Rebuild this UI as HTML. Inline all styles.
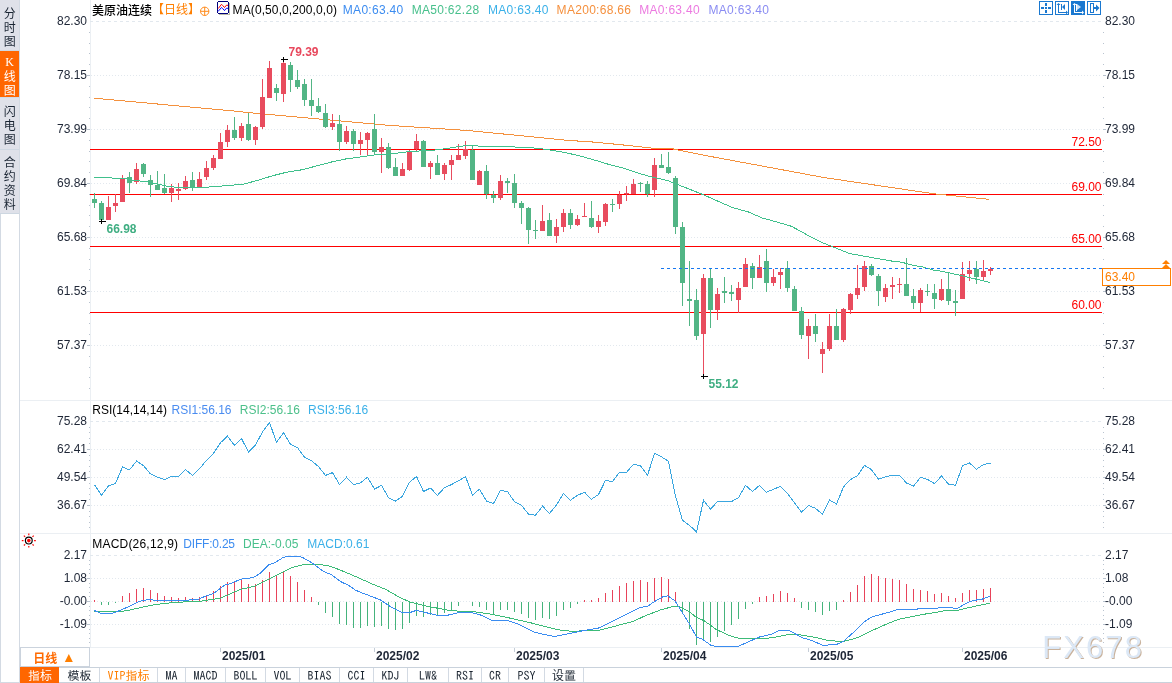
<!DOCTYPE html>
<html><head><meta charset="utf-8">
<style>
html,body{margin:0;padding:0;background:#fff;}
body{width:1172px;height:683px;overflow:hidden;position:relative;font-family:"Liberation Sans","Noto Sans CJK SC",sans-serif;}
svg{position:absolute;left:0;top:0;}
.n{font-family:"Liberation Sans",sans-serif;font-size:12px;}
.nb{font-family:"Liberation Sans",sans-serif;font-size:12px;font-weight:bold;}
.t{position:absolute;white-space:nowrap;font-size:12px;line-height:14px;}
.side{position:absolute;left:0;width:19px;text-align:center;font-family:"Noto Sans CJK SC",sans-serif;font-size:12px;line-height:15px;color:#1a2430;}
.tab{position:absolute;top:667px;height:15px;line-height:15px;font-size:12px;text-align:center;font-family:"IPAGothic","Noto Sans CJK SC",monospace;color:#1a2430;border-right:1px solid #d3dae3;box-sizing:border-box;}
</style></head><body>
<svg width="1172" height="683" viewBox="0 0 1172 683" shape-rendering="crispEdges">
<rect x="0" y="0" width="20" height="213" fill="#dfe1e9"/>
<rect x="0" y="51" width="19" height="46" fill="#ff6600"/>
<rect x="0" y="97" width="19" height="1" fill="#cfdbe8"/>
<rect x="0" y="50" width="19" height="1" fill="#cfd8e2"/>
<rect x="0" y="149" width="19" height="1" fill="#cfd8e2"/>
<rect x="0" y="213" width="1" height="470" fill="#d3dae3"/>
<rect x="0" y="213" width="19" height="1" fill="#cdd7e1"/>
<rect x="19" y="0" width="1" height="683" fill="#d3dae3"/>
<rect x="0" y="682" width="20" height="1" fill="#d3dae3"/>
<rect x="20" y="400" width="1152" height="1" fill="#ebeff3"/>
<rect x="20" y="533" width="1152" height="1" fill="#ebeff3"/>
<rect x="20" y="647" width="1152" height="1" fill="#ebeff3"/>
<rect x="90" y="0" width="1" height="647" fill="#ebeff3"/>
<line x1="90" y1="21.5" x2="1102" y2="21.5" stroke="#e2e8ee" stroke-width="1" stroke-dasharray="3,3"/>
<line x1="91" y1="75.5" x2="1102" y2="75.5" stroke="#e2e8ee" stroke-width="1" stroke-dasharray="1,2"/>
<line x1="91" y1="129.5" x2="1102" y2="129.5" stroke="#e2e8ee" stroke-width="1" stroke-dasharray="1,2"/>
<line x1="91" y1="183.5" x2="1102" y2="183.5" stroke="#e2e8ee" stroke-width="1" stroke-dasharray="1,2"/>
<line x1="91" y1="237.5" x2="1102" y2="237.5" stroke="#e2e8ee" stroke-width="1" stroke-dasharray="1,2"/>
<line x1="91" y1="291.5" x2="1102" y2="291.5" stroke="#e2e8ee" stroke-width="1" stroke-dasharray="1,2"/>
<line x1="91" y1="345.5" x2="1102" y2="345.5" stroke="#e2e8ee" stroke-width="1" stroke-dasharray="1,2"/>
<line x1="90" y1="421.5" x2="1102" y2="421.5" stroke="#e2e8ee" stroke-width="1" stroke-dasharray="3,3"/>
<line x1="91" y1="449.5" x2="1102" y2="449.5" stroke="#e2e8ee" stroke-width="1" stroke-dasharray="1,2"/>
<line x1="91" y1="477.5" x2="1102" y2="477.5" stroke="#e2e8ee" stroke-width="1" stroke-dasharray="1,2"/>
<line x1="91" y1="505.5" x2="1102" y2="505.5" stroke="#e2e8ee" stroke-width="1" stroke-dasharray="1,2"/>
<line x1="90" y1="555.5" x2="1102" y2="555.5" stroke="#e2e8ee" stroke-width="1" stroke-dasharray="3,3"/>
<line x1="91" y1="578.5" x2="1102" y2="578.5" stroke="#e2e8ee" stroke-width="1" stroke-dasharray="1,2"/>
<line x1="91" y1="601.5" x2="1102" y2="601.5" stroke="#e2e8ee" stroke-width="1" stroke-dasharray="1,2"/>
<line x1="91" y1="624.5" x2="1102" y2="624.5" stroke="#e2e8ee" stroke-width="1" stroke-dasharray="1,2"/>
<rect x="89" y="32" width="1" height="1" fill="#b9c3cf"/>
<rect x="1103" y="32" width="1" height="1" fill="#b9c3cf"/>
<rect x="89" y="43" width="1" height="1" fill="#b9c3cf"/>
<rect x="1103" y="43" width="1" height="1" fill="#b9c3cf"/>
<rect x="89" y="53" width="1" height="1" fill="#b9c3cf"/>
<rect x="1103" y="53" width="1" height="1" fill="#b9c3cf"/>
<rect x="89" y="64" width="1" height="1" fill="#b9c3cf"/>
<rect x="1103" y="64" width="1" height="1" fill="#b9c3cf"/>
<rect x="87" y="75" width="3" height="1" fill="#b9c3cf"/>
<rect x="1103" y="75" width="3" height="1" fill="#b9c3cf"/>
<rect x="89" y="86" width="1" height="1" fill="#b9c3cf"/>
<rect x="1103" y="86" width="1" height="1" fill="#b9c3cf"/>
<rect x="89" y="97" width="1" height="1" fill="#b9c3cf"/>
<rect x="1103" y="97" width="1" height="1" fill="#b9c3cf"/>
<rect x="89" y="107" width="1" height="1" fill="#b9c3cf"/>
<rect x="1103" y="107" width="1" height="1" fill="#b9c3cf"/>
<rect x="89" y="118" width="1" height="1" fill="#b9c3cf"/>
<rect x="1103" y="118" width="1" height="1" fill="#b9c3cf"/>
<rect x="87" y="129" width="3" height="1" fill="#b9c3cf"/>
<rect x="1103" y="129" width="3" height="1" fill="#b9c3cf"/>
<rect x="89" y="140" width="1" height="1" fill="#b9c3cf"/>
<rect x="1103" y="140" width="1" height="1" fill="#b9c3cf"/>
<rect x="89" y="151" width="1" height="1" fill="#b9c3cf"/>
<rect x="1103" y="151" width="1" height="1" fill="#b9c3cf"/>
<rect x="89" y="161" width="1" height="1" fill="#b9c3cf"/>
<rect x="1103" y="161" width="1" height="1" fill="#b9c3cf"/>
<rect x="89" y="172" width="1" height="1" fill="#b9c3cf"/>
<rect x="1103" y="172" width="1" height="1" fill="#b9c3cf"/>
<rect x="87" y="183" width="3" height="1" fill="#b9c3cf"/>
<rect x="1103" y="183" width="3" height="1" fill="#b9c3cf"/>
<rect x="89" y="194" width="1" height="1" fill="#b9c3cf"/>
<rect x="1103" y="194" width="1" height="1" fill="#b9c3cf"/>
<rect x="89" y="205" width="1" height="1" fill="#b9c3cf"/>
<rect x="1103" y="205" width="1" height="1" fill="#b9c3cf"/>
<rect x="89" y="215" width="1" height="1" fill="#b9c3cf"/>
<rect x="1103" y="215" width="1" height="1" fill="#b9c3cf"/>
<rect x="89" y="226" width="1" height="1" fill="#b9c3cf"/>
<rect x="1103" y="226" width="1" height="1" fill="#b9c3cf"/>
<rect x="87" y="237" width="3" height="1" fill="#b9c3cf"/>
<rect x="1103" y="237" width="3" height="1" fill="#b9c3cf"/>
<rect x="89" y="248" width="1" height="1" fill="#b9c3cf"/>
<rect x="1103" y="248" width="1" height="1" fill="#b9c3cf"/>
<rect x="89" y="259" width="1" height="1" fill="#b9c3cf"/>
<rect x="1103" y="259" width="1" height="1" fill="#b9c3cf"/>
<rect x="89" y="269" width="1" height="1" fill="#b9c3cf"/>
<rect x="1103" y="269" width="1" height="1" fill="#b9c3cf"/>
<rect x="89" y="280" width="1" height="1" fill="#b9c3cf"/>
<rect x="1103" y="280" width="1" height="1" fill="#b9c3cf"/>
<rect x="87" y="291" width="3" height="1" fill="#b9c3cf"/>
<rect x="1103" y="291" width="3" height="1" fill="#b9c3cf"/>
<rect x="89" y="302" width="1" height="1" fill="#b9c3cf"/>
<rect x="1103" y="302" width="1" height="1" fill="#b9c3cf"/>
<rect x="89" y="313" width="1" height="1" fill="#b9c3cf"/>
<rect x="1103" y="313" width="1" height="1" fill="#b9c3cf"/>
<rect x="89" y="323" width="1" height="1" fill="#b9c3cf"/>
<rect x="1103" y="323" width="1" height="1" fill="#b9c3cf"/>
<rect x="89" y="334" width="1" height="1" fill="#b9c3cf"/>
<rect x="1103" y="334" width="1" height="1" fill="#b9c3cf"/>
<rect x="87" y="345" width="3" height="1" fill="#b9c3cf"/>
<rect x="1103" y="345" width="3" height="1" fill="#b9c3cf"/>
<rect x="89" y="356" width="1" height="1" fill="#b9c3cf"/>
<rect x="1103" y="356" width="1" height="1" fill="#b9c3cf"/>
<rect x="89" y="367" width="1" height="1" fill="#b9c3cf"/>
<rect x="1103" y="367" width="1" height="1" fill="#b9c3cf"/>
<rect x="89" y="377" width="1" height="1" fill="#b9c3cf"/>
<rect x="1103" y="377" width="1" height="1" fill="#b9c3cf"/>
<rect x="89" y="388" width="1" height="1" fill="#b9c3cf"/>
<rect x="1103" y="388" width="1" height="1" fill="#b9c3cf"/>
<rect x="89" y="427" width="1" height="1" fill="#b9c3cf"/>
<rect x="1103" y="427" width="1" height="1" fill="#b9c3cf"/>
<rect x="89" y="432" width="1" height="1" fill="#b9c3cf"/>
<rect x="1103" y="432" width="1" height="1" fill="#b9c3cf"/>
<rect x="89" y="438" width="1" height="1" fill="#b9c3cf"/>
<rect x="1103" y="438" width="1" height="1" fill="#b9c3cf"/>
<rect x="89" y="443" width="1" height="1" fill="#b9c3cf"/>
<rect x="1103" y="443" width="1" height="1" fill="#b9c3cf"/>
<rect x="87" y="449" width="3" height="1" fill="#b9c3cf"/>
<rect x="1103" y="449" width="3" height="1" fill="#b9c3cf"/>
<rect x="89" y="455" width="1" height="1" fill="#b9c3cf"/>
<rect x="1103" y="455" width="1" height="1" fill="#b9c3cf"/>
<rect x="89" y="460" width="1" height="1" fill="#b9c3cf"/>
<rect x="1103" y="460" width="1" height="1" fill="#b9c3cf"/>
<rect x="89" y="466" width="1" height="1" fill="#b9c3cf"/>
<rect x="1103" y="466" width="1" height="1" fill="#b9c3cf"/>
<rect x="89" y="471" width="1" height="1" fill="#b9c3cf"/>
<rect x="1103" y="471" width="1" height="1" fill="#b9c3cf"/>
<rect x="87" y="477" width="3" height="1" fill="#b9c3cf"/>
<rect x="1103" y="477" width="3" height="1" fill="#b9c3cf"/>
<rect x="89" y="483" width="1" height="1" fill="#b9c3cf"/>
<rect x="1103" y="483" width="1" height="1" fill="#b9c3cf"/>
<rect x="89" y="488" width="1" height="1" fill="#b9c3cf"/>
<rect x="1103" y="488" width="1" height="1" fill="#b9c3cf"/>
<rect x="89" y="494" width="1" height="1" fill="#b9c3cf"/>
<rect x="1103" y="494" width="1" height="1" fill="#b9c3cf"/>
<rect x="89" y="499" width="1" height="1" fill="#b9c3cf"/>
<rect x="1103" y="499" width="1" height="1" fill="#b9c3cf"/>
<rect x="87" y="505" width="3" height="1" fill="#b9c3cf"/>
<rect x="1103" y="505" width="3" height="1" fill="#b9c3cf"/>
<rect x="89" y="511" width="1" height="1" fill="#b9c3cf"/>
<rect x="1103" y="511" width="1" height="1" fill="#b9c3cf"/>
<rect x="89" y="516" width="1" height="1" fill="#b9c3cf"/>
<rect x="1103" y="516" width="1" height="1" fill="#b9c3cf"/>
<rect x="89" y="522" width="1" height="1" fill="#b9c3cf"/>
<rect x="1103" y="522" width="1" height="1" fill="#b9c3cf"/>
<rect x="89" y="527" width="1" height="1" fill="#b9c3cf"/>
<rect x="1103" y="527" width="1" height="1" fill="#b9c3cf"/>
<rect x="89" y="560" width="1" height="1" fill="#b9c3cf"/>
<rect x="1103" y="560" width="1" height="1" fill="#b9c3cf"/>
<rect x="89" y="564" width="1" height="1" fill="#b9c3cf"/>
<rect x="1103" y="564" width="1" height="1" fill="#b9c3cf"/>
<rect x="89" y="569" width="1" height="1" fill="#b9c3cf"/>
<rect x="1103" y="569" width="1" height="1" fill="#b9c3cf"/>
<rect x="89" y="573" width="1" height="1" fill="#b9c3cf"/>
<rect x="1103" y="573" width="1" height="1" fill="#b9c3cf"/>
<rect x="87" y="578" width="3" height="1" fill="#b9c3cf"/>
<rect x="1103" y="578" width="3" height="1" fill="#b9c3cf"/>
<rect x="89" y="583" width="1" height="1" fill="#b9c3cf"/>
<rect x="1103" y="583" width="1" height="1" fill="#b9c3cf"/>
<rect x="89" y="587" width="1" height="1" fill="#b9c3cf"/>
<rect x="1103" y="587" width="1" height="1" fill="#b9c3cf"/>
<rect x="89" y="592" width="1" height="1" fill="#b9c3cf"/>
<rect x="1103" y="592" width="1" height="1" fill="#b9c3cf"/>
<rect x="89" y="596" width="1" height="1" fill="#b9c3cf"/>
<rect x="1103" y="596" width="1" height="1" fill="#b9c3cf"/>
<rect x="87" y="601" width="3" height="1" fill="#b9c3cf"/>
<rect x="1103" y="601" width="3" height="1" fill="#b9c3cf"/>
<rect x="89" y="606" width="1" height="1" fill="#b9c3cf"/>
<rect x="1103" y="606" width="1" height="1" fill="#b9c3cf"/>
<rect x="89" y="610" width="1" height="1" fill="#b9c3cf"/>
<rect x="1103" y="610" width="1" height="1" fill="#b9c3cf"/>
<rect x="89" y="615" width="1" height="1" fill="#b9c3cf"/>
<rect x="1103" y="615" width="1" height="1" fill="#b9c3cf"/>
<rect x="89" y="619" width="1" height="1" fill="#b9c3cf"/>
<rect x="1103" y="619" width="1" height="1" fill="#b9c3cf"/>
<rect x="87" y="624" width="3" height="1" fill="#b9c3cf"/>
<rect x="1103" y="624" width="3" height="1" fill="#b9c3cf"/>
<rect x="89" y="629" width="1" height="1" fill="#b9c3cf"/>
<rect x="1103" y="629" width="1" height="1" fill="#b9c3cf"/>
<rect x="89" y="633" width="1" height="1" fill="#b9c3cf"/>
<rect x="1103" y="633" width="1" height="1" fill="#b9c3cf"/>
<rect x="89" y="638" width="1" height="1" fill="#b9c3cf"/>
<rect x="1103" y="638" width="1" height="1" fill="#b9c3cf"/>
<rect x="89" y="642" width="1" height="1" fill="#b9c3cf"/>
<rect x="1103" y="642" width="1" height="1" fill="#b9c3cf"/>
<rect x="90" y="149" width="1012" height="1" fill="#ff0000"/>
<text x="1101.5" y="146" text-anchor="end" class="n" fill="#ff0000">72.50</text>
<rect x="90" y="194" width="1012" height="1" fill="#ff0000"/>
<text x="1101.5" y="191" text-anchor="end" class="n" fill="#ff0000">69.00</text>
<rect x="90" y="246" width="1012" height="1" fill="#ff0000"/>
<text x="1101.5" y="243" text-anchor="end" class="n" fill="#ff0000">65.00</text>
<rect x="90" y="312" width="1012" height="1" fill="#ff0000"/>
<text x="1101.5" y="309" text-anchor="end" class="n" fill="#ff0000">60.00</text>
<polyline points="94.1,98.2 236.0,111.2 248.0,112.5 312.0,118.4 388.0,125.3 468.0,130.5 567.0,140.3 595.3,142.2 631.5,145.8 657.6,148.7 672.0,148.7 700.0,154.5 824.3,177.6 934.8,193.9 989.5,199.4" fill="none" stroke="#f4913e" stroke-width="1"/>
<rect x="94" y="193" width="1" height="15" fill="#52b585"/>
<rect x="92" y="199" width="5" height="4" fill="#52b585"/>
<rect x="101" y="201" width="1" height="19" fill="#52b585"/>
<rect x="99" y="203" width="5" height="17" fill="#52b585"/>
<rect x="108" y="196" width="1" height="24" fill="#e84c5e"/>
<rect x="106" y="207" width="5" height="13" fill="#e84c5e"/>
<rect x="115" y="194" width="1" height="18" fill="#e84c5e"/>
<rect x="113" y="203" width="5" height="3" fill="#e84c5e"/>
<rect x="122" y="175" width="1" height="27" fill="#e84c5e"/>
<rect x="120" y="179" width="5" height="23" fill="#e84c5e"/>
<rect x="129" y="172" width="1" height="21" fill="#52b585"/>
<rect x="127" y="177" width="5" height="6" fill="#52b585"/>
<rect x="136" y="163" width="1" height="21" fill="#e84c5e"/>
<rect x="134" y="169" width="5" height="13" fill="#e84c5e"/>
<rect x="143" y="163" width="1" height="14" fill="#52b585"/>
<rect x="141" y="164" width="5" height="10" fill="#52b585"/>
<rect x="150" y="175" width="1" height="22" fill="#52b585"/>
<rect x="148" y="180" width="5" height="5" fill="#52b585"/>
<rect x="157" y="171" width="1" height="19" fill="#52b585"/>
<rect x="155" y="185" width="5" height="5" fill="#52b585"/>
<rect x="164" y="174" width="1" height="20" fill="#52b585"/>
<rect x="162" y="188" width="5" height="5" fill="#52b585"/>
<rect x="171" y="184" width="1" height="18" fill="#e84c5e"/>
<rect x="169" y="188" width="5" height="5" fill="#e84c5e"/>
<rect x="178" y="183" width="1" height="17" fill="#e84c5e"/>
<rect x="176" y="189" width="5" height="2" fill="#e84c5e"/>
<rect x="185" y="176" width="1" height="14" fill="#e84c5e"/>
<rect x="183" y="181" width="5" height="8" fill="#e84c5e"/>
<rect x="192" y="172" width="1" height="19" fill="#52b585"/>
<rect x="190" y="180" width="5" height="7" fill="#52b585"/>
<rect x="199" y="172" width="1" height="16" fill="#e84c5e"/>
<rect x="197" y="179" width="5" height="8" fill="#e84c5e"/>
<rect x="206" y="161" width="1" height="19" fill="#e84c5e"/>
<rect x="204" y="168" width="5" height="9" fill="#e84c5e"/>
<rect x="213" y="155" width="1" height="15" fill="#e84c5e"/>
<rect x="211" y="158" width="5" height="10" fill="#e84c5e"/>
<rect x="220" y="133" width="1" height="26" fill="#e84c5e"/>
<rect x="218" y="142" width="5" height="17" fill="#e84c5e"/>
<rect x="227" y="125" width="1" height="22" fill="#e84c5e"/>
<rect x="225" y="130" width="5" height="12" fill="#e84c5e"/>
<rect x="234" y="117" width="1" height="23" fill="#52b585"/>
<rect x="232" y="130" width="5" height="8" fill="#52b585"/>
<rect x="241" y="123" width="1" height="18" fill="#e84c5e"/>
<rect x="239" y="126" width="5" height="12" fill="#e84c5e"/>
<rect x="248" y="113" width="1" height="28" fill="#52b585"/>
<rect x="246" y="124" width="5" height="16" fill="#52b585"/>
<rect x="255" y="126" width="1" height="19" fill="#e84c5e"/>
<rect x="253" y="127" width="5" height="13" fill="#e84c5e"/>
<rect x="262" y="79" width="1" height="50" fill="#e84c5e"/>
<rect x="260" y="97" width="5" height="30" fill="#e84c5e"/>
<rect x="269" y="61" width="1" height="37" fill="#e84c5e"/>
<rect x="267" y="68" width="5" height="30" fill="#e84c5e"/>
<rect x="276" y="84" width="1" height="17" fill="#52b585"/>
<rect x="274" y="88" width="5" height="5" fill="#52b585"/>
<rect x="283" y="59" width="1" height="43" fill="#e84c5e"/>
<rect x="281" y="63" width="5" height="31" fill="#e84c5e"/>
<rect x="290" y="62" width="1" height="30" fill="#52b585"/>
<rect x="288" y="65" width="5" height="15" fill="#52b585"/>
<rect x="297" y="70" width="1" height="19" fill="#52b585"/>
<rect x="295" y="80" width="5" height="7" fill="#52b585"/>
<rect x="304" y="79" width="1" height="27" fill="#52b585"/>
<rect x="302" y="84" width="5" height="16" fill="#52b585"/>
<rect x="311" y="79" width="1" height="37" fill="#52b585"/>
<rect x="309" y="100" width="5" height="6" fill="#52b585"/>
<rect x="318" y="98" width="1" height="15" fill="#52b585"/>
<rect x="316" y="106" width="5" height="6" fill="#52b585"/>
<rect x="325" y="104" width="1" height="24" fill="#52b585"/>
<rect x="323" y="113" width="5" height="14" fill="#52b585"/>
<rect x="332" y="114" width="1" height="16" fill="#e84c5e"/>
<rect x="330" y="123" width="5" height="4" fill="#e84c5e"/>
<rect x="339" y="115" width="1" height="36" fill="#52b585"/>
<rect x="337" y="124" width="5" height="18" fill="#52b585"/>
<rect x="346" y="126" width="1" height="18" fill="#e84c5e"/>
<rect x="344" y="131" width="5" height="11" fill="#e84c5e"/>
<rect x="353" y="129" width="1" height="22" fill="#52b585"/>
<rect x="351" y="131" width="5" height="13" fill="#52b585"/>
<rect x="360" y="132" width="1" height="23" fill="#e84c5e"/>
<rect x="358" y="140" width="5" height="4" fill="#e84c5e"/>
<rect x="367" y="132" width="1" height="24" fill="#e84c5e"/>
<rect x="365" y="133" width="5" height="7" fill="#e84c5e"/>
<rect x="374" y="114" width="1" height="41" fill="#52b585"/>
<rect x="372" y="129" width="5" height="23" fill="#52b585"/>
<rect x="381" y="138" width="1" height="35" fill="#e84c5e"/>
<rect x="379" y="147" width="5" height="5" fill="#e84c5e"/>
<rect x="388" y="143" width="1" height="26" fill="#52b585"/>
<rect x="386" y="147" width="5" height="21" fill="#52b585"/>
<rect x="395" y="158" width="1" height="18" fill="#52b585"/>
<rect x="393" y="167" width="5" height="9" fill="#52b585"/>
<rect x="402" y="163" width="1" height="13" fill="#e84c5e"/>
<rect x="400" y="169" width="5" height="7" fill="#e84c5e"/>
<rect x="409" y="150" width="1" height="21" fill="#e84c5e"/>
<rect x="407" y="151" width="5" height="19" fill="#e84c5e"/>
<rect x="416" y="134" width="1" height="17" fill="#e84c5e"/>
<rect x="414" y="141" width="5" height="8" fill="#e84c5e"/>
<rect x="423" y="140" width="1" height="27" fill="#52b585"/>
<rect x="421" y="141" width="5" height="26" fill="#52b585"/>
<rect x="430" y="161" width="1" height="18" fill="#e84c5e"/>
<rect x="428" y="163" width="5" height="4" fill="#e84c5e"/>
<rect x="437" y="155" width="1" height="20" fill="#52b585"/>
<rect x="435" y="163" width="5" height="12" fill="#52b585"/>
<rect x="444" y="163" width="1" height="17" fill="#e84c5e"/>
<rect x="442" y="165" width="5" height="9" fill="#e84c5e"/>
<rect x="451" y="155" width="1" height="25" fill="#e84c5e"/>
<rect x="449" y="160" width="5" height="5" fill="#e84c5e"/>
<rect x="458" y="144" width="1" height="16" fill="#e84c5e"/>
<rect x="456" y="155" width="5" height="5" fill="#e84c5e"/>
<rect x="465" y="141" width="1" height="18" fill="#e84c5e"/>
<rect x="463" y="149" width="5" height="7" fill="#e84c5e"/>
<rect x="472" y="146" width="1" height="34" fill="#52b585"/>
<rect x="470" y="150" width="5" height="30" fill="#52b585"/>
<rect x="479" y="170" width="1" height="15" fill="#e84c5e"/>
<rect x="477" y="171" width="5" height="14" fill="#e84c5e"/>
<rect x="486" y="165" width="1" height="34" fill="#52b585"/>
<rect x="484" y="171" width="5" height="23" fill="#52b585"/>
<rect x="493" y="191" width="1" height="12" fill="#52b585"/>
<rect x="491" y="195" width="5" height="3" fill="#52b585"/>
<rect x="500" y="175" width="1" height="25" fill="#e84c5e"/>
<rect x="498" y="181" width="5" height="17" fill="#e84c5e"/>
<rect x="507" y="178" width="1" height="15" fill="#52b585"/>
<rect x="505" y="181" width="5" height="2" fill="#52b585"/>
<rect x="514" y="174" width="1" height="34" fill="#52b585"/>
<rect x="512" y="183" width="5" height="20" fill="#52b585"/>
<rect x="521" y="201" width="1" height="23" fill="#52b585"/>
<rect x="519" y="203" width="5" height="5" fill="#52b585"/>
<rect x="528" y="207" width="1" height="37" fill="#52b585"/>
<rect x="526" y="208" width="5" height="22" fill="#52b585"/>
<rect x="535" y="220" width="1" height="19" fill="#52b585"/>
<rect x="533" y="230" width="5" height="1" fill="#52b585"/>
<rect x="542" y="205" width="1" height="26" fill="#e84c5e"/>
<rect x="540" y="221" width="5" height="10" fill="#e84c5e"/>
<rect x="549" y="213" width="1" height="23" fill="#52b585"/>
<rect x="547" y="220" width="5" height="16" fill="#52b585"/>
<rect x="556" y="219" width="1" height="24" fill="#e84c5e"/>
<rect x="554" y="227" width="5" height="9" fill="#e84c5e"/>
<rect x="563" y="209" width="1" height="23" fill="#e84c5e"/>
<rect x="561" y="213" width="5" height="14" fill="#e84c5e"/>
<rect x="570" y="209" width="1" height="20" fill="#52b585"/>
<rect x="568" y="213" width="5" height="12" fill="#52b585"/>
<rect x="577" y="215" width="1" height="11" fill="#e84c5e"/>
<rect x="575" y="219" width="5" height="6" fill="#e84c5e"/>
<rect x="584" y="203" width="1" height="14" fill="#e84c5e"/>
<rect x="582" y="216" width="5" height="1" fill="#e84c5e"/>
<rect x="591" y="201" width="1" height="27" fill="#52b585"/>
<rect x="589" y="218" width="5" height="9" fill="#52b585"/>
<rect x="598" y="215" width="1" height="18" fill="#e84c5e"/>
<rect x="596" y="221" width="5" height="6" fill="#e84c5e"/>
<rect x="605" y="203" width="1" height="23" fill="#e84c5e"/>
<rect x="603" y="204" width="5" height="18" fill="#e84c5e"/>
<rect x="612" y="199" width="1" height="13" fill="#52b585"/>
<rect x="610" y="204" width="5" height="1" fill="#52b585"/>
<rect x="619" y="191" width="1" height="18" fill="#e84c5e"/>
<rect x="617" y="195" width="5" height="9" fill="#e84c5e"/>
<rect x="626" y="186" width="1" height="15" fill="#e84c5e"/>
<rect x="624" y="193" width="5" height="1" fill="#e84c5e"/>
<rect x="633" y="179" width="1" height="15" fill="#e84c5e"/>
<rect x="631" y="184" width="5" height="10" fill="#e84c5e"/>
<rect x="640" y="182" width="1" height="10" fill="#52b585"/>
<rect x="638" y="183" width="5" height="1" fill="#52b585"/>
<rect x="647" y="181" width="1" height="16" fill="#52b585"/>
<rect x="645" y="184" width="5" height="10" fill="#52b585"/>
<rect x="654" y="158" width="1" height="39" fill="#e84c5e"/>
<rect x="652" y="165" width="5" height="25" fill="#e84c5e"/>
<rect x="661" y="154" width="1" height="14" fill="#52b585"/>
<rect x="659" y="165" width="5" height="3" fill="#52b585"/>
<rect x="668" y="152" width="1" height="22" fill="#52b585"/>
<rect x="666" y="167" width="5" height="6" fill="#52b585"/>
<rect x="675" y="176" width="1" height="58" fill="#52b585"/>
<rect x="673" y="178" width="5" height="49" fill="#52b585"/>
<rect x="682" y="222" width="1" height="84" fill="#52b585"/>
<rect x="680" y="227" width="5" height="56" fill="#52b585"/>
<rect x="689" y="261" width="1" height="65" fill="#52b585"/>
<rect x="687" y="299" width="5" height="2" fill="#52b585"/>
<rect x="696" y="289" width="1" height="51" fill="#52b585"/>
<rect x="694" y="300" width="5" height="36" fill="#52b585"/>
<rect x="703" y="274" width="1" height="101" fill="#e84c5e"/>
<rect x="701" y="278" width="5" height="56" fill="#e84c5e"/>
<rect x="710" y="268" width="1" height="60" fill="#52b585"/>
<rect x="708" y="278" width="5" height="32" fill="#52b585"/>
<rect x="717" y="288" width="1" height="32" fill="#e84c5e"/>
<rect x="715" y="294" width="5" height="16" fill="#e84c5e"/>
<rect x="724" y="277" width="1" height="26" fill="#52b585"/>
<rect x="722" y="291" width="5" height="2" fill="#52b585"/>
<rect x="731" y="285" width="1" height="16" fill="#52b585"/>
<rect x="729" y="292" width="5" height="2" fill="#52b585"/>
<rect x="738" y="282" width="1" height="31" fill="#e84c5e"/>
<rect x="736" y="288" width="5" height="12" fill="#e84c5e"/>
<rect x="745" y="258" width="1" height="29" fill="#e84c5e"/>
<rect x="743" y="264" width="5" height="23" fill="#e84c5e"/>
<rect x="752" y="263" width="1" height="26" fill="#52b585"/>
<rect x="750" y="266" width="5" height="12" fill="#52b585"/>
<rect x="759" y="255" width="1" height="23" fill="#e84c5e"/>
<rect x="757" y="267" width="5" height="11" fill="#e84c5e"/>
<rect x="766" y="249" width="1" height="43" fill="#52b585"/>
<rect x="764" y="261" width="5" height="22" fill="#52b585"/>
<rect x="773" y="269" width="1" height="17" fill="#e84c5e"/>
<rect x="771" y="277" width="5" height="6" fill="#e84c5e"/>
<rect x="780" y="268" width="1" height="21" fill="#e84c5e"/>
<rect x="778" y="272" width="5" height="3" fill="#e84c5e"/>
<rect x="787" y="261" width="1" height="31" fill="#52b585"/>
<rect x="785" y="268" width="5" height="20" fill="#52b585"/>
<rect x="794" y="286" width="1" height="25" fill="#52b585"/>
<rect x="792" y="289" width="5" height="22" fill="#52b585"/>
<rect x="801" y="307" width="1" height="32" fill="#52b585"/>
<rect x="799" y="311" width="5" height="24" fill="#52b585"/>
<rect x="808" y="319" width="1" height="40" fill="#e84c5e"/>
<rect x="806" y="326" width="5" height="10" fill="#e84c5e"/>
<rect x="815" y="314" width="1" height="28" fill="#52b585"/>
<rect x="813" y="326" width="5" height="8" fill="#52b585"/>
<rect x="822" y="342" width="1" height="31" fill="#e84c5e"/>
<rect x="820" y="349" width="5" height="5" fill="#e84c5e"/>
<rect x="829" y="314" width="1" height="37" fill="#e84c5e"/>
<rect x="827" y="326" width="5" height="23" fill="#e84c5e"/>
<rect x="836" y="309" width="1" height="31" fill="#52b585"/>
<rect x="834" y="326" width="5" height="14" fill="#52b585"/>
<rect x="843" y="308" width="1" height="34" fill="#e84c5e"/>
<rect x="841" y="309" width="5" height="31" fill="#e84c5e"/>
<rect x="850" y="293" width="1" height="21" fill="#e84c5e"/>
<rect x="848" y="294" width="5" height="16" fill="#e84c5e"/>
<rect x="857" y="265" width="1" height="34" fill="#e84c5e"/>
<rect x="855" y="288" width="5" height="7" fill="#e84c5e"/>
<rect x="864" y="261" width="1" height="30" fill="#e84c5e"/>
<rect x="862" y="266" width="5" height="21" fill="#e84c5e"/>
<rect x="871" y="264" width="1" height="12" fill="#52b585"/>
<rect x="869" y="266" width="5" height="9" fill="#52b585"/>
<rect x="878" y="274" width="1" height="32" fill="#52b585"/>
<rect x="876" y="276" width="5" height="15" fill="#52b585"/>
<rect x="885" y="284" width="1" height="18" fill="#e84c5e"/>
<rect x="883" y="288" width="5" height="9" fill="#e84c5e"/>
<rect x="892" y="277" width="1" height="22" fill="#e84c5e"/>
<rect x="890" y="285" width="5" height="2" fill="#e84c5e"/>
<rect x="899" y="278" width="1" height="15" fill="#e84c5e"/>
<rect x="897" y="284" width="5" height="1" fill="#e84c5e"/>
<rect x="906" y="258" width="1" height="38" fill="#52b585"/>
<rect x="904" y="284" width="5" height="12" fill="#52b585"/>
<rect x="913" y="289" width="1" height="20" fill="#52b585"/>
<rect x="911" y="296" width="5" height="7" fill="#52b585"/>
<rect x="920" y="288" width="1" height="24" fill="#e84c5e"/>
<rect x="918" y="290" width="5" height="13" fill="#e84c5e"/>
<rect x="927" y="284" width="1" height="12" fill="#52b585"/>
<rect x="925" y="291" width="5" height="1" fill="#52b585"/>
<rect x="934" y="284" width="1" height="25" fill="#52b585"/>
<rect x="932" y="293" width="5" height="6" fill="#52b585"/>
<rect x="941" y="279" width="1" height="22" fill="#e84c5e"/>
<rect x="939" y="289" width="5" height="11" fill="#e84c5e"/>
<rect x="948" y="272" width="1" height="33" fill="#52b585"/>
<rect x="946" y="289" width="5" height="12" fill="#52b585"/>
<rect x="955" y="290" width="1" height="26" fill="#52b585"/>
<rect x="953" y="301" width="5" height="2" fill="#52b585"/>
<rect x="962" y="262" width="1" height="37" fill="#e84c5e"/>
<rect x="960" y="274" width="5" height="25" fill="#e84c5e"/>
<rect x="969" y="261" width="1" height="20" fill="#e84c5e"/>
<rect x="967" y="270" width="5" height="4" fill="#e84c5e"/>
<rect x="976" y="261" width="1" height="23" fill="#52b585"/>
<rect x="974" y="269" width="5" height="8" fill="#52b585"/>
<rect x="983" y="260" width="1" height="20" fill="#e84c5e"/>
<rect x="981" y="271" width="5" height="6" fill="#e84c5e"/>
<rect x="990" y="267" width="1" height="8" fill="#e84c5e"/>
<rect x="988" y="269" width="5" height="2" fill="#e84c5e"/>
<polyline points="94.4,177.5 111.4,177.5 112.6,178.5 125.5,178.5 134.9,180.7 146.6,181.4 153.6,183.4 158.3,184.0 166.6,186.2 177.0,187.4 199.5,187.8 216.7,186.4 230.0,185.4 244.5,184.0 259.0,179.9 273.5,175.5 288.0,171.9 302.5,169.7 317.0,165.8 331.5,162.0 346.0,158.9 360.5,157.0 375.0,154.9 388.0,154.2 409.0,151.6 433.7,150.2 446.6,148.5 468.0,145.2 483.0,146.4 525.0,147.2 538.7,148.4 551.8,150.2 566.3,152.8 580.8,156.2 595.3,160.3 609.8,164.7 624.3,168.3 638.8,173.4 653.3,177.4 667.8,180.6 682.3,186.4 690.0,189.4 704.5,195.2 719.0,201.7 733.5,207.9 748.0,211.8 762.5,218.1 777.0,222.0 791.5,226.3 806.0,234.3 820.5,241.9 835.0,247.7 849.6,253.5 864.0,256.2 892.0,261.1 902.0,262.3 912.5,265.2 922.7,266.9 933.0,270.0 943.0,271.5 953.5,273.8 963.7,276.1 972.0,278.2 989.9,282.4" fill="none" stroke="#40c08c" stroke-width="1"/>
<line x1="661" y1="268.5" x2="1102" y2="268.5" stroke="#1677f0" stroke-width="1" stroke-dasharray="3,3"/>
<rect x="280.5" y="58.6" width="7" height="1.6" fill="#000"/>
<rect x="282.5" y="56.6" width="1.6" height="5" fill="#000"/>
<rect x="98.5" y="220.8" width="7" height="1.6" fill="#000"/>
<rect x="100.5" y="218.8" width="1.6" height="5" fill="#000"/>
<rect x="700.5" y="375.6" width="7" height="1.6" fill="#000"/>
<rect x="702.5" y="373.6" width="1.6" height="5" fill="#000"/>
<text x="288.5" y="56" class="nb" fill="#e8475c">79.39</text>
<text x="106.5" y="233" class="nb" fill="#3fae82">66.98</text>
<text x="708.5" y="388" class="nb" fill="#3fae82">55.12</text>
<polyline points="94.5,484.9 101.5,495.2 108.5,485.7 115.5,483.4 122.5,467.0 129.5,469.9 136.5,461.1 143.5,465.7 150.5,473.9 157.5,477.3 164.5,479.6 171.5,476.5 178.5,476.5 185.5,469.6 192.5,475.4 199.5,468.8 206.5,460.3 213.5,453.4 220.5,442.7 227.5,436.2 234.5,445.3 241.5,438.6 248.5,452.1 255.5,445.0 262.5,431.9 269.5,422.4 276.5,442.4 283.5,432.7 290.5,444.2 297.5,447.6 304.5,457.3 311.5,460.8 318.5,466.5 325.5,475.4 332.5,472.6 339.5,484.5 346.5,477.2 353.5,484.5 360.5,482.9 367.5,477.2 374.5,489.1 381.5,485.4 388.5,497.7 395.5,501.0 402.5,496.4 409.5,482.3 416.5,476.4 423.5,491.5 430.5,488.1 437.5,495.3 444.5,487.6 451.5,484.6 458.5,480.7 465.5,476.6 472.5,495.0 479.5,489.2 486.5,501.0 493.5,503.5 500.5,490.4 507.5,491.5 514.5,501.8 521.5,505.3 528.5,514.2 535.5,515.3 542.5,506.1 549.5,513.5 556.5,505.0 563.5,493.3 570.5,500.2 577.5,495.3 584.5,492.2 591.5,499.2 598.5,494.6 605.5,480.4 612.5,481.5 619.5,472.3 626.5,472.3 633.5,464.3 640.5,465.7 647.5,475.3 654.5,453.4 661.5,456.9 668.5,461.2 675.5,496.1 682.5,520.4 689.5,525.3 696.5,532.0 703.5,500.3 710.5,509.2 717.5,501.5 724.5,501.5 731.5,501.5 738.5,497.6 745.5,485.3 752.5,491.5 759.5,485.3 766.5,492.2 773.5,489.2 780.5,486.4 787.5,493.3 794.5,503.0 801.5,512.2 808.5,505.3 815.5,508.4 822.5,514.2 829.5,499.9 836.5,504.1 843.5,486.9 850.5,479.5 857.5,475.8 864.5,465.4 871.5,469.7 878.5,479.2 885.5,476.9 892.5,475.3 899.5,475.3 906.5,483.0 913.5,486.1 920.5,477.3 927.5,479.5 934.5,483.5 941.5,476.1 948.5,484.1 955.5,485.3 962.5,465.7 969.5,463.0 976.5,469.2 983.5,464.6 990.5,463.0" fill="none" stroke="#3aa6df" stroke-width="1"/>
<rect x="94" y="600" width="1" height="2" fill="#e8435a"/>
<rect x="101" y="602" width="1" height="3" fill="#45b37c"/>
<rect x="108" y="602" width="1" height="3" fill="#45b37c"/>
<rect x="115" y="602" width="1" height="1" fill="#45b37c"/>
<rect x="122" y="596" width="1" height="6" fill="#e8435a"/>
<rect x="129" y="593" width="1" height="9" fill="#e8435a"/>
<rect x="136" y="589" width="1" height="13" fill="#e8435a"/>
<rect x="143" y="588" width="1" height="14" fill="#e8435a"/>
<rect x="150" y="590" width="1" height="12" fill="#e8435a"/>
<rect x="157" y="593" width="1" height="9" fill="#e8435a"/>
<rect x="164" y="596" width="1" height="6" fill="#e8435a"/>
<rect x="171" y="597" width="1" height="5" fill="#e8435a"/>
<rect x="178" y="598" width="1" height="4" fill="#e8435a"/>
<rect x="185" y="597" width="1" height="5" fill="#e8435a"/>
<rect x="192" y="598" width="1" height="4" fill="#e8435a"/>
<rect x="199" y="597" width="1" height="5" fill="#e8435a"/>
<rect x="206" y="595" width="1" height="7" fill="#e8435a"/>
<rect x="213" y="591" width="1" height="11" fill="#e8435a"/>
<rect x="220" y="586" width="1" height="16" fill="#e8435a"/>
<rect x="227" y="582" width="1" height="20" fill="#e8435a"/>
<rect x="234" y="582" width="1" height="20" fill="#e8435a"/>
<rect x="241" y="580" width="1" height="22" fill="#e8435a"/>
<rect x="248" y="584" width="1" height="18" fill="#e8435a"/>
<rect x="255" y="584" width="1" height="18" fill="#e8435a"/>
<rect x="262" y="580" width="1" height="22" fill="#e8435a"/>
<rect x="269" y="572" width="1" height="30" fill="#e8435a"/>
<rect x="276" y="575" width="1" height="27" fill="#e8435a"/>
<rect x="283" y="572" width="1" height="30" fill="#e8435a"/>
<rect x="290" y="576" width="1" height="26" fill="#e8435a"/>
<rect x="297" y="582" width="1" height="20" fill="#e8435a"/>
<rect x="304" y="590" width="1" height="12" fill="#e8435a"/>
<rect x="311" y="597" width="1" height="5" fill="#e8435a"/>
<rect x="318" y="602" width="1" height="3" fill="#45b37c"/>
<rect x="325" y="602" width="1" height="11" fill="#45b37c"/>
<rect x="332" y="602" width="1" height="15" fill="#45b37c"/>
<rect x="339" y="602" width="1" height="22" fill="#45b37c"/>
<rect x="346" y="602" width="1" height="23" fill="#45b37c"/>
<rect x="353" y="602" width="1" height="26" fill="#45b37c"/>
<rect x="360" y="602" width="1" height="26" fill="#45b37c"/>
<rect x="367" y="602" width="1" height="24" fill="#45b37c"/>
<rect x="374" y="602" width="1" height="25" fill="#45b37c"/>
<rect x="381" y="602" width="1" height="24" fill="#45b37c"/>
<rect x="388" y="602" width="1" height="27" fill="#45b37c"/>
<rect x="395" y="602" width="1" height="28" fill="#45b37c"/>
<rect x="402" y="602" width="1" height="27" fill="#45b37c"/>
<rect x="409" y="602" width="1" height="21" fill="#45b37c"/>
<rect x="416" y="602" width="1" height="14" fill="#45b37c"/>
<rect x="423" y="602" width="1" height="15" fill="#45b37c"/>
<rect x="430" y="602" width="1" height="13" fill="#45b37c"/>
<rect x="437" y="602" width="1" height="13" fill="#45b37c"/>
<rect x="444" y="602" width="1" height="11" fill="#45b37c"/>
<rect x="451" y="602" width="1" height="8" fill="#45b37c"/>
<rect x="458" y="602" width="1" height="4" fill="#45b37c"/>
<rect x="472" y="602" width="1" height="4" fill="#45b37c"/>
<rect x="479" y="602" width="1" height="5" fill="#45b37c"/>
<rect x="486" y="602" width="1" height="8" fill="#45b37c"/>
<rect x="493" y="602" width="1" height="12" fill="#45b37c"/>
<rect x="500" y="602" width="1" height="8" fill="#45b37c"/>
<rect x="507" y="602" width="1" height="8" fill="#45b37c"/>
<rect x="514" y="602" width="1" height="10" fill="#45b37c"/>
<rect x="521" y="602" width="1" height="12" fill="#45b37c"/>
<rect x="528" y="602" width="1" height="16" fill="#45b37c"/>
<rect x="535" y="602" width="1" height="18" fill="#45b37c"/>
<rect x="542" y="602" width="1" height="16" fill="#45b37c"/>
<rect x="549" y="602" width="1" height="17" fill="#45b37c"/>
<rect x="556" y="602" width="1" height="14" fill="#45b37c"/>
<rect x="563" y="602" width="1" height="8" fill="#45b37c"/>
<rect x="570" y="602" width="1" height="6" fill="#45b37c"/>
<rect x="577" y="602" width="1" height="2" fill="#45b37c"/>
<rect x="584" y="600" width="1" height="2" fill="#e8435a"/>
<rect x="591" y="600" width="1" height="2" fill="#e8435a"/>
<rect x="598" y="598" width="1" height="4" fill="#e8435a"/>
<rect x="605" y="593" width="1" height="9" fill="#e8435a"/>
<rect x="612" y="590" width="1" height="12" fill="#e8435a"/>
<rect x="619" y="586" width="1" height="16" fill="#e8435a"/>
<rect x="626" y="583" width="1" height="19" fill="#e8435a"/>
<rect x="633" y="581" width="1" height="21" fill="#e8435a"/>
<rect x="640" y="580" width="1" height="22" fill="#e8435a"/>
<rect x="647" y="582" width="1" height="20" fill="#e8435a"/>
<rect x="654" y="578" width="1" height="24" fill="#e8435a"/>
<rect x="661" y="577" width="1" height="25" fill="#e8435a"/>
<rect x="668" y="579" width="1" height="23" fill="#e8435a"/>
<rect x="675" y="592" width="1" height="10" fill="#e8435a"/>
<rect x="682" y="602" width="1" height="11" fill="#45b37c"/>
<rect x="689" y="602" width="1" height="27" fill="#45b37c"/>
<rect x="696" y="602" width="1" height="43" fill="#45b37c"/>
<rect x="703" y="602" width="1" height="37" fill="#45b37c"/>
<rect x="710" y="602" width="1" height="40" fill="#45b37c"/>
<rect x="717" y="602" width="1" height="35" fill="#45b37c"/>
<rect x="724" y="602" width="1" height="29" fill="#45b37c"/>
<rect x="731" y="602" width="1" height="23" fill="#45b37c"/>
<rect x="738" y="602" width="1" height="17" fill="#45b37c"/>
<rect x="745" y="602" width="1" height="7" fill="#45b37c"/>
<rect x="752" y="602" width="1" height="2" fill="#45b37c"/>
<rect x="759" y="597" width="1" height="5" fill="#e8435a"/>
<rect x="766" y="596" width="1" height="6" fill="#e8435a"/>
<rect x="773" y="594" width="1" height="8" fill="#e8435a"/>
<rect x="780" y="591" width="1" height="11" fill="#e8435a"/>
<rect x="787" y="593" width="1" height="9" fill="#e8435a"/>
<rect x="794" y="598" width="1" height="4" fill="#e8435a"/>
<rect x="801" y="602" width="1" height="6" fill="#45b37c"/>
<rect x="808" y="602" width="1" height="8" fill="#45b37c"/>
<rect x="815" y="602" width="1" height="10" fill="#45b37c"/>
<rect x="822" y="602" width="1" height="13" fill="#45b37c"/>
<rect x="829" y="602" width="1" height="9" fill="#45b37c"/>
<rect x="836" y="602" width="1" height="8" fill="#45b37c"/>
<rect x="843" y="600" width="1" height="2" fill="#e8435a"/>
<rect x="850" y="592" width="1" height="10" fill="#e8435a"/>
<rect x="857" y="585" width="1" height="17" fill="#e8435a"/>
<rect x="864" y="576" width="1" height="26" fill="#e8435a"/>
<rect x="871" y="574" width="1" height="28" fill="#e8435a"/>
<rect x="878" y="576" width="1" height="26" fill="#e8435a"/>
<rect x="885" y="578" width="1" height="24" fill="#e8435a"/>
<rect x="892" y="579" width="1" height="23" fill="#e8435a"/>
<rect x="899" y="580" width="1" height="22" fill="#e8435a"/>
<rect x="906" y="584" width="1" height="18" fill="#e8435a"/>
<rect x="913" y="589" width="1" height="13" fill="#e8435a"/>
<rect x="920" y="590" width="1" height="12" fill="#e8435a"/>
<rect x="927" y="591" width="1" height="11" fill="#e8435a"/>
<rect x="934" y="594" width="1" height="8" fill="#e8435a"/>
<rect x="941" y="593" width="1" height="9" fill="#e8435a"/>
<rect x="948" y="596" width="1" height="6" fill="#e8435a"/>
<rect x="955" y="598" width="1" height="4" fill="#e8435a"/>
<rect x="962" y="593" width="1" height="9" fill="#e8435a"/>
<rect x="969" y="590" width="1" height="12" fill="#e8435a"/>
<rect x="976" y="590" width="1" height="12" fill="#e8435a"/>
<rect x="983" y="589" width="1" height="13" fill="#e8435a"/>
<rect x="990" y="588" width="1" height="14" fill="#e8435a"/>
<polyline points="94.4,611.2 111.9,611.6 118.0,611.9 129.0,610.2 142.6,607.1 156.3,604.4 175.4,602.3 199.9,601.4 210.9,599.6 220.4,598.2 231.3,593.4 240.0,589.5 248.3,587.8 255.3,585.8 267.8,579.8 281.7,572.5 292.9,567.3 305.4,564.2 317.9,564.2 329.0,565.9 340.2,570.0 358.3,577.7 373.6,584.6 386.1,589.5 392.0,593.0 400.0,597.6 410.1,602.0 426.8,606.2 447.7,610.1 461.6,611.5 475.5,612.0 489.4,613.9 503.3,616.6 531.1,622.9 544.0,626.2 557.7,629.7 571.3,631.3 598.6,630.3 612.3,626.9 632.7,621.5 646.4,615.3 661.4,609.6 673.7,606.4 680.5,607.1 688.7,611.2 696.0,617.1 704.2,620.8 711.0,625.6 716.5,629.7 730.1,635.8 741.1,638.9 754.7,638.9 772.5,637.8 788.8,634.4 799.8,634.8 816.1,637.6 827.1,640.3 842.1,641.7 848.0,640.3 857.6,637.6 871.2,631.0 886.2,624.2 898.5,619.4 909.4,617.1 923.1,614.4 936.7,612.2 946.3,610.5 957.2,610.5 968.1,607.8 979.1,605.3 990.0,603.2" fill="none" stroke="#3cbb78" stroke-width="1"/>
<polyline points="94.4,610.5 100.3,613.2 111.9,613.5 118.0,611.2 127.6,607.1 138.5,601.6 148.0,599.6 156.3,600.3 183.6,600.3 197.2,599.6 205.4,596.2 213.6,593.4 224.5,585.3 231.3,583.2 240.9,579.1 248.3,578.4 253.9,577.3 260.9,572.8 269.2,564.5 274.8,562.8 283.1,557.5 288.7,556.1 297.0,556.1 302.6,557.5 312.3,563.1 323.5,571.4 331.8,574.9 340.2,581.4 348.5,585.3 355.5,590.2 362.4,593.0 372.2,596.7 380.5,600.0 387.5,604.8 392.0,607.6 401.7,612.5 410.1,612.5 416.3,610.4 425.4,612.5 436.5,615.2 447.7,615.2 461.6,612.0 468.5,612.0 479.7,614.6 492.2,620.4 507.5,620.4 517.2,623.6 533.9,631.9 544.0,634.4 554.9,636.5 571.3,633.1 585.0,630.3 598.6,628.0 608.2,623.5 620.5,617.4 631.4,611.9 639.6,607.5 647.8,606.2 653.2,602.3 662.8,596.9 667.6,595.8 675.1,601.0 688.7,622.8 696.9,637.6 701.5,638.5 711.0,645.4 715.1,646.3 738.3,646.3 750.6,640.9 758.8,637.2 772.5,633.8 779.3,630.3 788.8,630.3 802.5,637.8 812.0,640.6 823.0,645.4 836.6,644.4 843.4,641.3 853.5,632.4 864.4,621.7 871.2,617.4 875.3,616.0 886.2,613.0 898.5,609.4 916.3,609.4 919.0,608.5 936.7,608.5 939.5,607.5 951.8,607.5 953.8,608.5 957.2,608.5 968.1,602.3 973.6,600.4 981.8,599.3 990.0,596.2" fill="none" stroke="#3a8cf0" stroke-width="1"/>
<text x="87" y="24.6" text-anchor="end" class="n" fill="#1e2636">82.30</text>
<text x="1105" y="24.6" class="n" fill="#1e2636">82.30</text>
<text x="87" y="78.6" text-anchor="end" class="n" fill="#1e2636">78.15</text>
<text x="1105" y="78.6" class="n" fill="#1e2636">78.15</text>
<text x="87" y="132.6" text-anchor="end" class="n" fill="#1e2636">73.99</text>
<text x="1105" y="132.6" class="n" fill="#1e2636">73.99</text>
<text x="87" y="186.6" text-anchor="end" class="n" fill="#1e2636">69.84</text>
<text x="1105" y="186.6" class="n" fill="#1e2636">69.84</text>
<text x="87" y="240.6" text-anchor="end" class="n" fill="#1e2636">65.68</text>
<text x="1105" y="240.6" class="n" fill="#1e2636">65.68</text>
<text x="87" y="294.6" text-anchor="end" class="n" fill="#1e2636">61.53</text>
<text x="1105" y="294.6" class="n" fill="#1e2636">61.53</text>
<text x="87" y="348.6" text-anchor="end" class="n" fill="#1e2636">57.37</text>
<text x="1105" y="348.6" class="n" fill="#1e2636">57.37</text>
<text x="87" y="424.6" text-anchor="end" class="n" fill="#1e2636">75.28</text>
<text x="1105" y="424.6" class="n" fill="#1e2636">75.28</text>
<text x="87" y="452.6" text-anchor="end" class="n" fill="#1e2636">62.41</text>
<text x="1105" y="452.6" class="n" fill="#1e2636">62.41</text>
<text x="87" y="480.6" text-anchor="end" class="n" fill="#1e2636">49.54</text>
<text x="1105" y="480.6" class="n" fill="#1e2636">49.54</text>
<text x="87" y="508.6" text-anchor="end" class="n" fill="#1e2636">36.67</text>
<text x="1105" y="508.6" class="n" fill="#1e2636">36.67</text>
<text x="87" y="558.6" text-anchor="end" class="n" fill="#1e2636">2.17</text>
<text x="1105" y="558.6" class="n" fill="#1e2636">2.17</text>
<text x="87" y="581.6" text-anchor="end" class="n" fill="#1e2636">1.08</text>
<text x="1105" y="581.6" class="n" fill="#1e2636">1.08</text>
<text x="87" y="604.6" text-anchor="end" class="n" fill="#1e2636">-0.00</text>
<text x="1105" y="604.6" class="n" fill="#1e2636">-0.00</text>
<text x="87" y="627.6" text-anchor="end" class="n" fill="#1e2636">-1.09</text>
<text x="1105" y="627.6" class="n" fill="#1e2636">-1.09</text>
<rect x="220" y="648" width="1" height="4" fill="#c6ced8"/>
<text x="222" y="660" class="nb" fill="#1e2636">2025/01</text>
<rect x="374" y="648" width="1" height="4" fill="#c6ced8"/>
<text x="376" y="660" class="nb" fill="#1e2636">2025/02</text>
<rect x="514" y="648" width="1" height="4" fill="#c6ced8"/>
<text x="516" y="660" class="nb" fill="#1e2636">2025/03</text>
<rect x="661" y="648" width="1" height="4" fill="#c6ced8"/>
<text x="663" y="660" class="nb" fill="#1e2636">2025/04</text>
<rect x="808" y="648" width="1" height="4" fill="#c6ced8"/>
<text x="810" y="660" class="nb" fill="#1e2636">2025/05</text>
<rect x="962" y="648" width="1" height="4" fill="#c6ced8"/>
<text x="964" y="660" class="nb" fill="#1e2636">2025/06</text>
<text x="92" y="14.5" font-size="12" font-weight="500" font-family="Noto Sans CJK SC, sans-serif" fill="#000">美原油连续</text>
<text x="152" y="14" font-size="12" font-family="Noto Sans CJK SC, sans-serif" fill="#ff7f00">【日线】</text>
<circle cx="204.7" cy="11.3" r="4.2" fill="none" stroke="#ff8a1a" stroke-width="1" shape-rendering="auto"/>
<line x1="200.5" y1="11.3" x2="209" y2="11.3" stroke="#ff8a1a" stroke-width="1" shape-rendering="auto"/>
<line x1="204.7" y1="7" x2="204.7" y2="15.6" stroke="#ff8a1a" stroke-width="1" shape-rendering="auto"/>
<rect x="218.5" y="14" width="11" height="1" fill="#b8b8a8"/>
<rect x="229" y="2.5" width="1" height="12" fill="#b8b8a8"/>
<rect x="218" y="1" width="10" height="1" fill="#00007a"/>
<rect x="218" y="13" width="10" height="1" fill="#00007a"/>
<rect x="217" y="2" width="1" height="11" fill="#00007a"/>
<rect x="228" y="2" width="1" height="11" fill="#00007a"/>
<polyline points="218.3,8.5 221.5,4.3 222.5,5.3 224.5,7.5 226.3,5.3 228,5.3" fill="none" stroke="#ff0000" stroke-width="1" shape-rendering="auto"/>
<polyline points="218,11.5 221.5,7.5 222.5,8.3 224.5,10.6 226.3,8.3 228,8.3" fill="none" stroke="#0000ff" stroke-width="1" shape-rendering="auto"/>
<text x="232.6" y="14" class="n" letter-spacing="0.1" fill="#000">MA(0,50,0,200,0,0)</text>
<text x="342.8" y="14" class="n" letter-spacing="0.3" fill="#3c8cf0">MA0:63.40</text>
<text x="411.7" y="14" class="n" letter-spacing="0.3" fill="#48c08c">MA50:62.28</text>
<text x="488" y="14" class="n" letter-spacing="0.3" fill="#3ab0e8">MA0:63.40</text>
<text x="556.6" y="14" class="n" letter-spacing="0.3" fill="#f5903e">MA200:68.66</text>
<text x="639.2" y="14" class="n" letter-spacing="0.3" fill="#ec7ae0">MA0:63.40</text>
<text x="708.5" y="14" class="n" letter-spacing="0.3" fill="#8a8cf2">MA0:63.40</text>
<text x="92.3" y="414" class="n" fill="#000">RSI(14,14,14)</text>
<text x="171.5" y="414" class="n" fill="#4a8cf0">RSI1:56.16</text>
<text x="239.8" y="414" class="n" fill="#4cc08a">RSI2:56.16</text>
<text x="308.1" y="414" class="n" fill="#3ab0e8">RSI3:56.16</text>
<text x="92.3" y="548" class="n" letter-spacing="0.2" fill="#000">MACD(26,12,9)</text>
<text x="183.3" y="548" class="n" letter-spacing="-0.2" fill="#3c8cf0">DIFF:0.25</text>
<text x="243.1" y="548" class="n" letter-spacing="0" fill="#48c08c">DEA:-0.05</text>
<text x="307.3" y="548" class="n" letter-spacing="0" fill="#3ab0e8">MACD:0.61</text>
<g shape-rendering="auto">
<circle cx="28.8" cy="540.6" r="3.4" fill="#fff" stroke="#000" stroke-width="1.2"/>
<circle cx="28.8" cy="540.6" r="1.8" fill="#ff0000"/>
<line x1="34.1" y1="540.6" x2="35.8" y2="540.6" stroke="#ff0000" stroke-width="1.2"/>
<line x1="32.5" y1="544.3" x2="33.7" y2="545.5" stroke="#ff0000" stroke-width="1.2"/>
<line x1="28.8" y1="545.9" x2="28.8" y2="547.6" stroke="#ff0000" stroke-width="1.2"/>
<line x1="25.1" y1="544.3" x2="23.9" y2="545.5" stroke="#ff0000" stroke-width="1.2"/>
<line x1="23.5" y1="540.6" x2="21.8" y2="540.6" stroke="#ff0000" stroke-width="1.2"/>
<line x1="25.1" y1="536.9" x2="23.9" y2="535.7" stroke="#ff0000" stroke-width="1.2"/>
<line x1="28.8" y1="535.3" x2="28.8" y2="533.6" stroke="#ff0000" stroke-width="1.2"/>
<line x1="32.5" y1="536.9" x2="33.7" y2="535.7" stroke="#ff0000" stroke-width="1.2"/>
</g>
<rect x="1102.5" y="268.5" width="67.5" height="17" fill="#fff" stroke="#ff7f00" stroke-width="1"/>
<text x="1105" y="281" class="n" fill="#ff7f00">63.40</text>
<polygon points="1162,264 1166,260 1170,264" fill="#ff7f00" shape-rendering="auto"/>
<polygon points="1162,268 1166,264 1170,268" fill="#ff7f00" shape-rendering="auto"/>
<rect x="1039.5" y="1.5" width="13" height="13" fill="#fff" stroke="#1a78d0" stroke-width="1"/>
<rect x="1055.5" y="1.5" width="13" height="13" fill="#fff" stroke="#1a78d0" stroke-width="1"/>
<rect x="1071" y="1" width="14" height="14" fill="#1a78d0"/>
<rect x="1087.5" y="1.5" width="13" height="13" fill="#fff" stroke="#1a78d0" stroke-width="1"/>
<rect x="1041" y="7" width="3" height="2" fill="#1a78d0"/>
<rect x="1048" y="7" width="3" height="2" fill="#1a78d0"/>
<rect x="1045" y="7" width="2" height="2" fill="#1a78d0"/>
<rect x="1045" y="3" width="2" height="3" fill="#1a78d0"/>
<rect x="1045" y="10" width="2" height="3" fill="#1a78d0"/>
<rect x="1058" y="4" width="1" height="9" fill="#1a78d0"/>
<rect x="1058" y="12" width="9" height="1" fill="#1a78d0"/>
<polygon points="1056.5,5 1058.5,3 1060.5,5" fill="#1a78d0" shape-rendering="auto"/>
<polygon points="1066,10.5 1068,12.5 1066,14.5" fill="#1a78d0" shape-rendering="auto"/>
<rect x="1061" y="4" width="1" height="6" fill="#1a78d0"/>
<polygon points="1065,4 1065,10 1062,7" fill="#1a78d0" shape-rendering="auto"/>
<rect x="1074" y="4" width="1" height="9" fill="#fff"/>
<rect x="1074" y="12" width="9" height="1" fill="#fff"/>
<polygon points="1072.5,5 1074.5,3 1076.5,5" fill="#fff" shape-rendering="auto"/>
<polygon points="1082,10.5 1084,12.5 1082,14.5" fill="#fff" shape-rendering="auto"/>
<rect x="1076" y="4" width="1" height="7" fill="#fff"/>
<polygon points="1077,4 1077,10 1081,7" fill="#cfe3f7" shape-rendering="auto"/>
<rect x="1090.5" y="3.5" width="3" height="9" fill="none" stroke="#1a78d0" stroke-width="1"/>
<rect x="1093" y="7" width="4" height="2" fill="#1a78d0"/>
<polygon points="1096,4.5 1099.5,8 1096,11.5" fill="#1a78d0" shape-rendering="auto"/>
<rect x="20.5" y="647.5" width="69" height="19" fill="#fff" stroke="#cbd3dd" stroke-width="1"/>
<text x="33.2" y="663" font-size="12" font-weight="bold" font-family="Noto Sans CJK SC, sans-serif" fill="#ff6a00">日线</text>
<polygon points="64.8,662 68.8,654 72.8,662" fill="#ff7f00" shape-rendering="auto"/>
<rect x="20" y="667" width="1152" height="1" fill="#c9d2dc"/>
<rect x="20" y="682" width="1152" height="1" fill="#c9d2dc"/>
<rect x="20" y="667" width="39" height="16" fill="#ff6600"/>
<rect x="99" y="668" width="1" height="14" fill="#d3dae3"/>
<rect x="157" y="668" width="1" height="14" fill="#d3dae3"/>
<rect x="185" y="668" width="1" height="14" fill="#d3dae3"/>
<rect x="225" y="668" width="1" height="14" fill="#d3dae3"/>
<rect x="265" y="668" width="1" height="14" fill="#d3dae3"/>
<rect x="299" y="668" width="1" height="14" fill="#d3dae3"/>
<rect x="339" y="668" width="1" height="14" fill="#d3dae3"/>
<rect x="373" y="668" width="1" height="14" fill="#d3dae3"/>
<rect x="407" y="668" width="1" height="14" fill="#d3dae3"/>
<rect x="448" y="668" width="1" height="14" fill="#d3dae3"/>
<rect x="481" y="668" width="1" height="14" fill="#d3dae3"/>
<rect x="508" y="668" width="1" height="14" fill="#d3dae3"/>
<rect x="544" y="668" width="1" height="14" fill="#d3dae3"/>
<rect x="583" y="668" width="1" height="14" fill="#d3dae3"/>
<text x="40.0" y="679.5" text-anchor="middle" font-size="12" font-family="IPAGothic, Noto Sans CJK SC, monospace" fill="#fff">指标</text>
<text x="79.5" y="679.5" text-anchor="middle" font-size="12" font-family="IPAGothic, Noto Sans CJK SC, monospace" fill="#1a2430">模板</text>
<text x="128.5" y="679.5" text-anchor="middle" font-size="12" font-family="IPAGothic, Noto Sans CJK SC, monospace" fill="#ff7f00">VIP指标</text>
<text x="171.5" y="679.5" text-anchor="middle" font-size="12" font-family="IPAGothic, Noto Sans CJK SC, monospace" fill="#1a2430">MA</text>
<text x="205.5" y="679.5" text-anchor="middle" font-size="12" font-family="IPAGothic, Noto Sans CJK SC, monospace" fill="#1a2430">MACD</text>
<text x="245.5" y="679.5" text-anchor="middle" font-size="12" font-family="IPAGothic, Noto Sans CJK SC, monospace" fill="#1a2430">BOLL</text>
<text x="282.5" y="679.5" text-anchor="middle" font-size="12" font-family="IPAGothic, Noto Sans CJK SC, monospace" fill="#1a2430">VOL</text>
<text x="319.5" y="679.5" text-anchor="middle" font-size="12" font-family="IPAGothic, Noto Sans CJK SC, monospace" fill="#1a2430">BIAS</text>
<text x="356.5" y="679.5" text-anchor="middle" font-size="12" font-family="IPAGothic, Noto Sans CJK SC, monospace" fill="#1a2430">CCI</text>
<text x="390.5" y="679.5" text-anchor="middle" font-size="12" font-family="IPAGothic, Noto Sans CJK SC, monospace" fill="#1a2430">KDJ</text>
<text x="428.0" y="679.5" text-anchor="middle" font-size="12" font-family="IPAGothic, Noto Sans CJK SC, monospace" fill="#1a2430">LW&amp;</text>
<text x="465.0" y="679.5" text-anchor="middle" font-size="12" font-family="IPAGothic, Noto Sans CJK SC, monospace" fill="#1a2430">RSI</text>
<text x="495.0" y="679.5" text-anchor="middle" font-size="12" font-family="IPAGothic, Noto Sans CJK SC, monospace" fill="#1a2430">CR</text>
<text x="526.5" y="679.5" text-anchor="middle" font-size="12" font-family="IPAGothic, Noto Sans CJK SC, monospace" fill="#1a2430">PSY</text>
<text x="564.0" y="679.5" text-anchor="middle" font-size="12" font-family="IPAGothic, Noto Sans CJK SC, monospace" fill="#1a2430">设置</text>
<text x="9.7" y="17.5" text-anchor="middle" font-size="12" font-family="Noto Sans CJK SC, sans-serif" fill="#1a2533">分</text>
<text x="9.7" y="31.5" text-anchor="middle" font-size="12" font-family="Noto Sans CJK SC, sans-serif" fill="#1a2533">时</text>
<text x="9.7" y="45.5" text-anchor="middle" font-size="12" font-family="Noto Sans CJK SC, sans-serif" fill="#1a2533">图</text>
<text x="9.7" y="66" text-anchor="middle" font-size="12" font-family="Liberation Serif, serif" fill="#fff">K</text>
<text x="9.7" y="80.5" text-anchor="middle" font-size="12" font-family="Noto Sans CJK SC, sans-serif" fill="#fff">线</text>
<text x="9.7" y="94.5" text-anchor="middle" font-size="12" font-family="Noto Sans CJK SC, sans-serif" fill="#fff">图</text>
<text x="9.7" y="116" text-anchor="middle" font-size="12" font-family="Noto Sans CJK SC, sans-serif" fill="#1a2533">闪</text>
<text x="9.7" y="130" text-anchor="middle" font-size="12" font-family="Noto Sans CJK SC, sans-serif" fill="#1a2533">电</text>
<text x="9.7" y="144" text-anchor="middle" font-size="12" font-family="Noto Sans CJK SC, sans-serif" fill="#1a2533">图</text>
<text x="9.7" y="167" text-anchor="middle" font-size="12" font-family="Noto Sans CJK SC, sans-serif" fill="#1a2533">合</text>
<text x="9.7" y="181" text-anchor="middle" font-size="12" font-family="Noto Sans CJK SC, sans-serif" fill="#1a2533">约</text>
<text x="9.7" y="195" text-anchor="middle" font-size="12" font-family="Noto Sans CJK SC, sans-serif" fill="#1a2533">资</text>
<text x="9.7" y="209" text-anchor="middle" font-size="12" font-family="Noto Sans CJK SC, sans-serif" fill="#1a2533">料</text>
<text x="1043.2" y="659.3" font-size="31" font-family="Liberation Sans, sans-serif" letter-spacing="2.1" fill="#c9b29c" shape-rendering="auto">FX678</text>
<text x="1042.2" y="658.3" font-size="31" font-family="Liberation Sans, sans-serif" letter-spacing="2.1" fill="#dce8f6" shape-rendering="auto">FX678</text>
</svg>
</body></html>
